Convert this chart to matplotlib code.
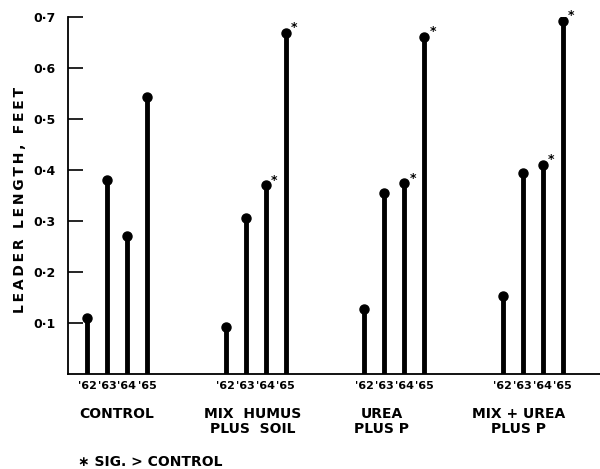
import numpy as np
import matplotlib.pyplot as plt

plt.rcParams["font.family"] = ["DejaVu Sans"]

# data
treatments = ["CONTROL", "MIX  HUMUS\nPLUS  SOIL", "UREA\nPLUS P", "MIX + UREA\nPLUS P"]
years = ["'62", "'63", "'64", "'65"]
control = [0.110, 0.380, 0.270, 0.543]
mix_humus = [0.092, 0.306, 0.370, 0.669]
urea = [0.128, 0.354, 0.374, 0.661]
mix_urea = [0.152, 0.394, 0.410, 0.692]
significant = [
    [False, False, False, False],
    [False, False, True, True],
    [False, False, True, True],
    [False, False, True, True],
]
y_ticks = [0.1, 0.2, 0.3, 0.4, 0.5, 0.6, 0.7]
y_ticklabels = ["0\u00b71", "0\u00b72", "0\u00b73", "0\u00b74", "0\u00b75", "0\u00b76", "0\u00b77"]
y_title = "LEADER LENGTH, FEET"

values = [control, mix_humus, urea, mix_urea]

fig = plt.figure(figsize=(6.0, 4.69), dpi=100)
ax = fig.add_axes([68 / 600, 95 / 469, 532 / 600, 357 / 469])

group_step = 138.5
bar_step = 20.0
first = 19.0
label_shift = [0, -3, -12, -14]  # hand lettered labels sit a bit left

for g, vals in enumerate(values):
    xs = first + g * group_step + np.arange(len(vals)) * bar_step
    for i, (x, v) in enumerate(zip(xs, vals)):
        ax.plot([x, x], [0, v], color="black", linewidth=3.5,
                solid_capstyle="butt", zorder=3)
        ax.plot(x, v, "o", color="black", markersize=6.5, zorder=4)
        if significant[g][i]:
            ax.annotate("*", (x, v), xytext=(4, -1), textcoords="offset points",
                        fontsize=9, fontweight="bold", ha="left", va="bottom")
        ax.annotate(years[i], (x, 0), xytext=(0, -5), textcoords="offset points",
                    fontsize=8, fontweight="bold", ha="center", va="top")
    center = xs.mean() + label_shift[g]
    ax.annotate(treatments[g], (center, 0), xytext=(0, -24),
                textcoords="offset points", fontsize=10, fontweight="bold",
                ha="center", va="top", linespacing=1.05)

ax.set_xlim(0, 532)
ax.set_ylim(0, 0.7)
ax.set_xticks([])
ax.set_yticks(y_ticks)
ax.set_yticklabels(y_ticklabels, fontsize=9, fontweight="bold")
ax.tick_params(axis="y", direction="in", length=11, width=1.2, pad=9)
for side in ["top", "right"]:
    ax.spines[side].set_visible(False)
for side in ["left", "bottom"]:
    ax.spines[side].set_linewidth(1.3)

# letter-spaced axis title
fig.text(20 / 600, 1 - 200 / 469, "\u2009".join(y_title), fontsize=10,
         fontweight="bold", rotation=90, ha="center", va="center")

fig.text(78 / 600, 1 - 462 / 469, "\u2217 SIG. > CONTROL", fontsize=10,
         fontweight="bold", ha="left", va="center")

fig.savefig("out.png", dpi=100)
